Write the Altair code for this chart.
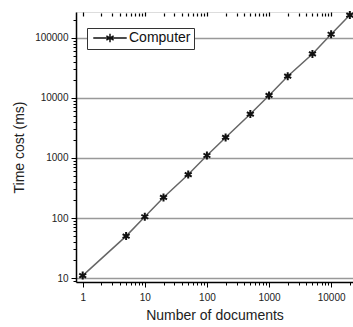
import altair as alt
import pandas as pd

docs = [1, 5, 10, 20, 50, 100, 200, 500, 1000, 2000, 5000, 10000, 20000]
time_ms = [11, 50, 105, 220, 530, 1100, 2200, 5400, 11000, 23000, 54000, 115000, 240000]
series = ["Computer"] * len(docs)

x_major = [1, 10, 100, 1000, 10000]
y_major = [10, 100, 1000, 10000, 100000]
x_minor = [m * d for d in [1, 10, 100, 1000, 10000] for m in range(1, 10) if m * d <= 22000]
y_minor = [9] + [m * d for d in [10, 100, 1000, 10000, 100000] for m in range(1, 10) if m * d <= 260000]

df = pd.DataFrame({"docs": docs, "time": time_ms, "series": series})

FONT = "Liberation Sans"
STAR = "M0,-1V1M-0.87,-0.5L0.87,0.5M-0.87,0.5L0.87,-0.5"
LEG = "M-4,0H4" + STAR

xmaj = "indexof([" + ",".join(str(v) for v in x_major) + "], datum.value) >= 0"
ymaj = "indexof([" + ",".join(str(v) for v in y_major) + "], datum.value) >= 0"

xscale = alt.Scale(type="log", domain=[0.78, 22500], nice=False)
yscale = alt.Scale(type="log", domain=[8.6, 270000], nice=False)

x_bottom = alt.X(
    "docs:Q", scale=xscale,
    axis=alt.Axis(
        orient="bottom", values=x_minor, title="Number of documents",
        labelExpr=f"{xmaj} ? format(datum.value, 'd') : ''",
        tickSize={"condition": {"test": xmaj, "value": 5}, "value": 3},
        grid=False, domainColor="black", tickColor="black", domainWidth=1.5,
        labelFont=FONT, labelFontSize=10, labelColor="#222", labelPadding=5,
        titleFont=FONT, titleFontSize=14, titleFontWeight="normal", titleColor="#222",
        titlePadding=6, labelFlush=False, labelOverlap=False,
    ),
)
x_top = alt.X(
    "docs:Q", scale=xscale,
    axis=alt.Axis(
        orient="top", values=x_minor, labels=False, title=None, domain=False,
        offset=-4, tickColor="black", tickWidth=1.2,
        tickSize={"condition": {"test": xmaj, "value": 4}, "value": 3},
        grid=False,
    ),
)
y_enc = alt.Y(
    "time:Q", scale=yscale,
    axis=alt.Axis(
        values=y_minor, title="Time cost (ms)",
        labelExpr=f"{ymaj} ? format(datum.value, 'd') : ''",
        tickSize={"condition": {"test": ymaj, "value": 5}, "value": 3},
        grid=True, gridColor="#999", gridWidth=1.5,
        gridOpacity={"condition": {"test": ymaj, "value": 1}, "value": 0},
        domainColor="black", tickColor="black", domainWidth=1.5,
        labelFont=FONT, labelFontSize=10, labelColor="#222", labelPadding=3,
        titleFont=FONT, titleFontSize=14, titleFontWeight="normal", titleColor="#222",
        titlePadding=8, labelOverlap=False,
    ),
)

line = alt.Chart(df).mark_line(color="#666", strokeWidth=1.5).encode(x=x_bottom, y=y_enc)

points = alt.Chart(df).mark_point(shape=STAR, size=64, filled=False, strokeWidth=2, opacity=1).encode(
    x=x_top, y=y_enc,
    color=alt.Color(
        "series:N", scale=alt.Scale(range=["#111"]),
        legend=alt.Legend(
            title=None, orient="none", legendX=11, legendY=16,
            symbolType=LEG, symbolSize=70, symbolStrokeWidth=1.5,
            symbolStrokeColor="#333", symbolOffset=13, labelOffset=12,
            labelFont=FONT, labelFontSize=14, labelColor="#111",
            strokeColor="#333", fillColor="white", padding=3,
        ),
    ),
)

chart = (
    alt.layer(line, points)
    .resolve_axis(x="independent")
    .properties(
        width=277, height=270,
        autosize=alt.AutoSizeParams(type="none"),
        padding={"left": 76, "top": 12, "right": 0, "bottom": 45},
    )
    .configure_view(stroke="black", strokeWidth=1.5)
    .configure(background="white")
)

chart.save("out.html", embed_options={"renderer": "svg", "actions": False})
